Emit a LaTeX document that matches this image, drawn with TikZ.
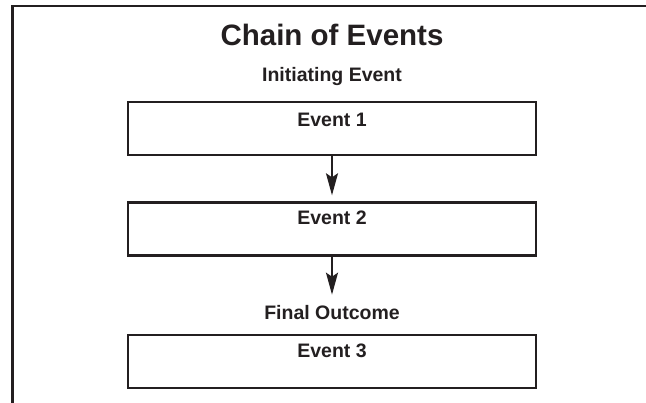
\documentclass[tikz,border=0pt]{standalone}
\usepackage{fontspec}
\setmainfont{Liberation Sans}
\usetikzlibrary{arrows.meta}
\definecolor{ink}{HTML}{231F20}
\begin{document}
\begin{tikzpicture}[x=1pt,y=-1pt,
  eventbox/.style={draw=ink, line width=2.4pt, minimum width=408pt, minimum height=53pt, inner sep=0pt},
  lbl/.style={font=\bfseries\fontsize{19.5}{22}\selectfont, text=ink, inner sep=0pt, anchor=base},
  titlelbl/.style={font=\bfseries\fontsize{29.5}{34}\selectfont, text=ink, inner sep=0pt, anchor=base},
  flow/.style={draw=ink, line width=1.8pt, -{Stealth[length=22pt,width=12pt,inset=4pt]}},
  frameline/.style={draw=ink, line width=2.4pt}]
\useasboundingbox (0,0) rectangle (646,403);
\coordinate (fa) at (646,6);
\coordinate (fb) at (12.5,6);
\coordinate (fc) at (12.5,403);
\draw[frameline] (fa) -- (fb) -- (fc);
\node[titlelbl] (title) at (332,46) {Chain of Events};
\node[lbl] (init) at (332,81.5) {Initiating Event};
\node[eventbox] (b1) at (332,128.5) {};
\node[lbl] (t1) at (332,127) {Event 1};
\node[eventbox] (b2) at (332,229) {};
\node[lbl] (t2) at (332,225) {Event 2};
\node[lbl] (fo) at (332,320) {Final Outcome};
\node[eventbox] (b3) at (332,361.5) {};
\node[lbl] (t3) at (332,358) {Event 3};
\draw[flow, shorten >=6pt] (b1.south) -- (b2.north);
\draw[flow, shorten >=11pt] (b2.south) -- (fo.north);
\end{tikzpicture}
\end{document}
